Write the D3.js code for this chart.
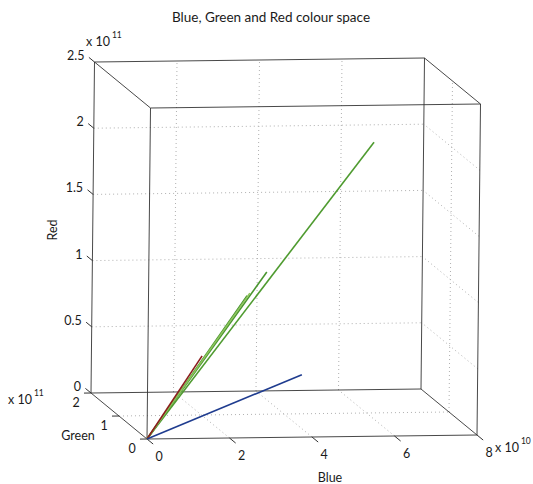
<!DOCTYPE html>
<html>
<head>
<meta charset="utf-8">
<script src="https://cdn.jsdelivr.net/npm/d3@7"></script>
<style>
body { margin: 0; background: #fff; }
text { font-family: Lato, "Liberation Sans", Arial, sans-serif; fill: #1a1a1a; }
</style>
</head>
<body>
<div id="chart"></div>
<script>
// axis settings
const blueTicks = [0, 2e10, 4e10, 6e10, 8e10];
const greenTicks = [0, 1e11, 2e11];
const redTicks = [0, 0.5e11, 1e11, 1.5e11, 2e11, 2.5e11];

// line end points (all lines start at the origin)
const lineNames = ["green1", "green2", "green3", "green4", "red1", "blue1"];
const lineBlue  = [6.25e10, 3.41e10, 2.87e10, 2.97e10, 1.52e10, 4.56e10];
const lineGreen = [1.2e11, 0.8e11, 0.7e11, 0.75e11, 0.3e11, 1.2e11];
const lineRed   = [2.01e11, 1.11e11, 0.95e11, 0.96e11, 0.57e11, 0.26e11];

const lineColor = {
    green1: "#4f9b30", green2: "#4a9630", green3: "#3f8c2a", green4: "#8cc45a",
    red1: "#8b1d1d", blue1: "#1f3c8f"
};

var svg = d3.select("#chart").append("svg")
    .attr("width", 533)
    .attr("height", 484);

// oblique projection built from one scale per axis and screen direction
const ox = 147, oy = 439;
const bx = d3.scaleLinear().domain([0, 8e10]).range([0, 330]);
const by = d3.scaleLinear().domain([0, 8e10]).range([0, -4]);
const gx = d3.scaleLinear().domain([0, 2e11]).range([0, -56]);
const gy = d3.scaleLinear().domain([0, 2e11]).range([0, -46]);
const rx = d3.scaleLinear().domain([0, 2.5e11]).range([0, 3.5]);
const ry = d3.scaleLinear().domain([0, 2.5e11]).range([0, -331]);

function project(b, g, r) {
    return [ox + bx(b) + gx(g) + rx(r), oy + by(b) + gy(g) + ry(r)];
}

const bMax = 8e10, gMax = 2e11, rMax = 2.5e11;

function seg(p, q, cls) {
    let a = project(p[0], p[1], p[2]);
    let c = project(q[0], q[1], q[2]);
    return svg.append("line")
        .attr("class", cls)
        .attr("x1", a[0]).attr("y1", a[1])
        .attr("x2", c[0]).attr("y2", c[1]);
}

// grid: back wall (green max), floor (red 0), right wall (blue max)
let grid = [];
blueTicks.slice(1, -1).forEach(b => {
    grid.push([[b, gMax, 0], [b, gMax, rMax]]);
    grid.push([[b, 0, 0], [b, gMax, 0]]);
});
redTicks.slice(1, -1).forEach(r => {
    grid.push([[0, gMax, r], [bMax, gMax, r]]);
    grid.push([[bMax, 0, r], [bMax, gMax, r]]);
});
greenTicks.slice(1, -1).forEach(g => {
    grid.push([[0, g, 0], [bMax, g, 0]]);
    grid.push([[bMax, g, 0], [bMax, g, rMax]]);
});
grid.forEach(s => seg(s[0], s[1], "grid")
    .attr("stroke", "#b0b0b0")
    .attr("stroke-width", 1)
    .attr("stroke-dasharray", "1,3"));

// box edges
let corners = [];
[0, bMax].forEach(b => [0, gMax].forEach(g => [0, rMax].forEach(r => corners.push([b, g, r]))));
for (var i = 0; i < corners.length; i++) {
    for (var j = i + 1; j < corners.length; j++) {
        let diff = 0;
        for (var k = 0; k < 3; k++) if (corners[i][k] != corners[j][k]) diff++;
        if (diff == 1) {
            seg(corners[i], corners[j], "edge")
                .attr("stroke", "#333")
                .attr("stroke-width", 0.9);
        }
    }
}

// ticks
blueTicks.forEach(b => seg([b, 0, 0], [b, -0.22e11, 0], "tick").attr("stroke", "#333"));
greenTicks.forEach(g => seg([0, g, 0], [-0.17e10, g, 0], "tick").attr("stroke", "#333"));
redTicks.forEach(r => seg([0, gMax, r], [0, gMax + 0.2e11, r], "tick").attr("stroke", "#333"));

// tick labels
blueTicks.forEach(b => {
    let p = project(b, 0, 0);
    svg.append("text").attr("x", p[0] + 12).attr("y", p[1] + 22)
        .attr("text-anchor", "middle").style("font-size", "12.5px")
        .text(d3.format("~g")(b / 1e10));
});
greenTicks.forEach(g => {
    let p = project(0, g, 0);
    svg.append("text").attr("x", p[0] - 15).attr("y", p[1] + 14)
        .attr("text-anchor", "middle").style("font-size", "12.5px")
        .text(d3.format("~g")(g / 1e11));
});
redTicks.forEach(r => {
    let p = project(0, gMax, r);
    svg.append("text").attr("x", p[0] - 10).attr("y", p[1] - 2)
        .attr("text-anchor", "end").style("font-size", "12.5px")
        .text(d3.format("~g")(r / 1e11));
});

// exponent labels
function expLabel(x, y, exp) {
    let t = svg.append("text").attr("x", x).attr("y", y).style("font-size", "12.5px").text("x 10");
    let w = t.node().getComputedTextLength();
    svg.append("text").attr("x", x + w + 2).attr("y", y - 8).style("font-size", "8.5px").text(exp);
}
expLabel(86, 46, "11");
expLabel(8, 404, "11");
expLabel(495, 452, "10");

// axis titles
svg.append("text").attr("x", 330).attr("y", 482).attr("text-anchor", "middle")
    .style("font-size", "12.5px").text("Blue");
svg.append("text").attr("x", 78).attr("y", 440).attr("text-anchor", "middle")
    .style("font-size", "12.5px").text("Green");
svg.append("text").attr("transform", "translate(57,230) rotate(-90)").attr("text-anchor", "middle")
    .style("font-size", "12.5px").text("Red");

svg.append("text").attr("x", 271).attr("y", 22).attr("text-anchor", "middle")
    .style("font-size", "13.5px").text("Blue, Green and Red colour space");

// data lines
let line = d3.line().x(d => d[0]).y(d => d[1]);
lineNames.forEach((name, i) => {
    let pts = [project(0, 0, 0), project(lineBlue[i], lineGreen[i], lineRed[i])];
    svg.append("path")
        .datum(pts)
        .attr("d", line)
        .attr("fill", "none")
        .attr("stroke", lineColor[name])
        .attr("stroke-width", 1.6);
});
</script>
</body>
</html>
